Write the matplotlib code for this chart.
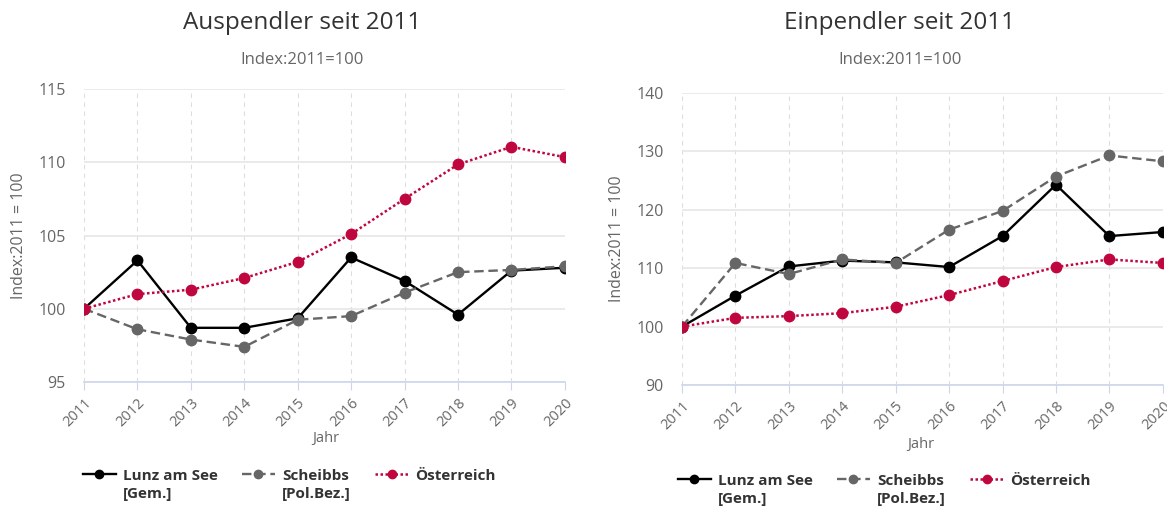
import matplotlib.pyplot as plt
from matplotlib.ticker import FixedLocator

plt.rcParams['font.family'] = ['Open Sans', 'DejaVu Sans']

years = [2011, 2012, 2013, 2014, 2015, 2016, 2017, 2018, 2019, 2020]
series_names = ['Lunz am See\n[Gem.]', 'Scheibbs\n[Pol.Bez.]', 'Österreich']

# Auspendler (index 2011 = 100)
aus_lunz = [100, 103.3, 98.7, 98.7, 99.35, 103.5, 101.9, 99.6, 102.6, 102.8]
aus_scheibbs = [100, 98.6, 97.9, 97.4, 99.25, 99.5, 101.1, 102.5, 102.65, 102.9]
aus_oesterreich = [100, 101.0, 101.3, 102.1, 103.2, 105.1, 107.5, 109.85, 111.05, 110.35]

# Einpendler (index 2011 = 100)
ein_lunz = [100, 105.3, 110.3, 111.3, 111.0, 110.2, 115.5, 124.3, 115.5, 116.2]
ein_scheibbs = [100, 110.9, 109.0, 111.5, 110.9, 116.6, 119.8, 125.7, 129.3, 128.3]
ein_oesterreich = [100, 101.5, 101.8, 102.3, 103.4, 105.4, 107.8, 110.2, 111.5, 110.9]

styles = [
    dict(color='#000000', linestyle='-', linewidth=1.7),
    dict(color='#666666', linestyle=(0, (4, 2)), linewidth=1.7),
    dict(color='#c0063f', linestyle=(0, (1, 1)), linewidth=1.8),
]

grid_col = '#e6e6e6'
axis_col = '#ccd6eb'
text_col = '#666666'

fig = plt.figure(figsize=(11.67, 5.07), dpi=100)


def draw(rect, title, data, ylim, yticks, title_x, jahr_x, jahr_y, leg_xy):
    ax = fig.add_axes(rect)
    for vals, name, st in zip(data, series_names, styles):
        ax.plot(years, vals, label=name, marker='o', markersize=7.5, zorder=3, **st)
    ax.set_xlim(years[0], years[-1])
    ax.set_ylim(*ylim)
    ax.yaxis.set_major_locator(FixedLocator(yticks))
    ax.set_xticks(years)
    ax.set_xticklabels([str(y) for y in years], rotation=45, ha='right',
                       rotation_mode='anchor', color=text_col, fontsize=10.5)
    ax.tick_params(axis='y', length=0, labelcolor=text_col, labelsize=11.5, pad=13)
    ax.tick_params(axis='x', length=6, color=axis_col, pad=4)
    ax.grid(axis='y', color=grid_col, linewidth=1.2)
    ax.grid(axis='x', color='#dddddd', linestyle=(0, (4, 4)), linewidth=0.8)
    for s in ['top', 'right', 'left']:
        ax.spines[s].set_visible(False)
    ax.spines['bottom'].set_color(axis_col)
    ax.spines['bottom'].set_linewidth(1.2)
    ax.set_ylabel('Index:2011 = 100', color=text_col, fontsize=11.5, labelpad=8)
    fig.text(title_x, 0.955, title, ha='center', va='center', fontsize=17.5, color='#333333')
    fig.text(title_x, 0.882, 'Index:2011=100', ha='center', va='center', fontsize=12, color=text_col)
    fig.text(jahr_x, jahr_y, 'Jahr', ha='center', va='center', fontsize=10.5, color=text_col)
    leg = ax.legend(loc='upper left', bbox_to_anchor=leg_xy, bbox_transform=fig.transFigure,
                    ncol=3, frameon=False, borderaxespad=0, borderpad=0,
                    handlelength=2.15, handletextpad=0.45, columnspacing=1.6,
                    labelspacing=0.2, markerscale=0.8,
                    prop={'weight': 'bold', 'size': 11})
    for t in leg.get_texts():
        t.set_color('#333333')
        t.set_linespacing(1.4)
    # align the legend symbol and all columns with the first text line
    leg._legend_handle_box.align = 'top'
    for col in leg._legend_handle_box.get_children():
        for entry in col.get_children():
            entry.align = 'top'
    return ax


draw([0.072, 0.2465, 0.412, 0.578], 'Auspendler seit 2011',
     [aus_lunz, aus_scheibbs, aus_oesterreich], (95, 115), [95, 100, 105, 110, 115],
     0.259, 0.279, 0.136, (83 / 1167, 1 - 469 / 507))
draw([0.5844, 0.2406, 0.412, 0.576], 'Einpendler seit 2011',
     [ein_lunz, ein_scheibbs, ein_oesterreich], (90, 140), [90, 100, 110, 120, 130, 140],
     0.771, 0.789, 0.124, (678 / 1167, 1 - 474 / 507))

fig.savefig('out.png', dpi=100, facecolor='white')
